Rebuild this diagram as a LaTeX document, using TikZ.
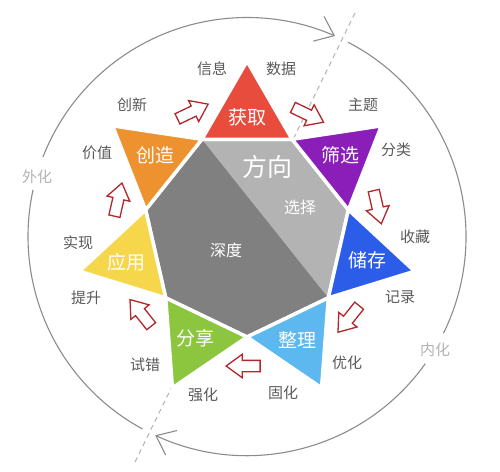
\documentclass[tikz,border=0pt]{standalone}
\usepackage{fontspec}
\setmainfont{Noto Sans CJK SC}
\usetikzlibrary{shapes.arrows,arrows.meta,calc}
\definecolor{cred}{HTML}{E84C3D}
\definecolor{corange}{HTML}{EE922F}
\definecolor{cyellow}{HTML}{F6D64A}
\definecolor{cgreen}{HTML}{8CC63E}
\definecolor{clblue}{HTML}{5CB8EE}
\definecolor{cblue}{HTML}{2B5DE8}
\definecolor{cpurple}{HTML}{8B1EB8}
\definecolor{glight}{HTML}{B3B3B3}
\definecolor{gdark}{HTML}{808080}
\definecolor{labelgray}{HTML}{5A5A5A}
\definecolor{faint}{HTML}{B3B3B3}
\definecolor{arcgray}{HTML}{8C8C8C}
\definecolor{arrowred}{HTML}{B3262A}
\begin{document}
\begin{tikzpicture}[x=1pt,y=1pt,
  outer/.style={text=labelgray,font=\fontsize{15}{15}\selectfont,inner sep=0pt},
  side/.style={text=faint,font=\fontsize{15}{15}\selectfont,inner sep=0pt},
  tri/.style={text=white,font=\fontsize{19}{19}\selectfont,inner sep=0pt},
  hept/.style={text=white,font=\fontsize{16}{16}\selectfont,inner sep=0pt},
  ring/.style={draw=arcgray,line width=1.1pt},
  ringarrow/.style={ring,-{Straight Barb[length=17pt,width=27pt,line width=1.1pt]}},
  dashline/.style={draw=faint,line width=1pt,dash pattern=on 5pt off 4pt},
  flow/.style={single arrow,draw=arrowred,fill=white,line width=1.3pt,
    minimum height=34pt,inner sep=5pt,single arrow head extend=6pt,
    single arrow tip angle=72},
  piece/.style={draw=white,line width=3.5pt,line join=round}
]
\useasboundingbox (0,0) rectangle (500,-471);
\fill[white] (0,0) rectangle (500,-471);
\coordinate (O) at (247,-233);
\coordinate (C) at (247,-236.5);
% outer ring
\draw[ring] ([shift={(C)}]241.5:219pt) arc[start angle=241.5,end angle=167.7,radius=219pt];
\draw[ringarrow] ([shift={(C)}]158.7:219pt) arc[start angle=158.7,end angle=66.3,radius=219pt];
\draw[ring] ([shift={(C)}]62.5:219pt) arc[start angle=62.5,end angle=-26.2,radius=219pt];
\draw[ringarrow] ([shift={(C)}]-35.5:219pt) arc[start angle=-35.5,end angle=-114.8,radius=219pt];
\coordinate (D1) at (355,-13);
\coordinate (D2) at (135,-462);
\draw[dashline] (D1) -- (D2);
% vertices
\foreach \k in {0,...,6}{
  \coordinate (V\k) at ($(O)+({64.2857+51.4286*\k}:104pt)$);
  \coordinate (A\k) at ($(O)+({90+51.4286*\k}:171.85pt)$);
}
% heptagon
\fill[glight] (V1) -- (V0) -- (V6) -- (V5) -- cycle;
\fill[gdark] (V5) -- (V4) -- (V3) -- (V2) -- (V1) -- cycle;
\draw[piece] (V0) -- (V1) -- (V2) -- (V3) -- (V4) -- (V5) -- (V6) -- cycle;
% triangles
\filldraw[piece,fill=cred] (V0) -- (A0) -- (V1) -- cycle;
\filldraw[piece,fill=corange] (V1) -- (A1) -- (V2) -- cycle;
\filldraw[piece,fill=cyellow] (V2) -- (A2) -- (V3) -- cycle;
\filldraw[piece,fill=cgreen] (V3) -- (A3) -- (V4) -- cycle;
\filldraw[piece,fill=clblue] (V4) -- (A4) -- (V5) -- cycle;
\filldraw[piece,fill=cblue] (V5) -- (A5) -- (V6) -- cycle;
\filldraw[piece,fill=cpurple] (V6) -- (A6) -- (V0) -- cycle;
% triangle labels
\node[tri] (t0) at (247,-117) {获取};
\node[tri] (t6) at (340,-155) {筛选};
\node[tri] (t5) at (367,-260) {储存};
\node[tri] (t4) at (297,-340) {整理};
\node[tri] (t3) at (195,-338) {分享};
\node[tri] (t2) at (126,-262) {应用};
\node[tri] (t1) at (155,-155) {创造};
% heptagon labels
\node[text=white,font=\fontsize{25}{25}\selectfont,inner sep=0pt] (h1) at (267,-167) {方向};
\node[hept] (h2) at (300,-207) {选择};
\node[hept] (h3) at (226,-250) {深度};
% outer labels
\node[outer] (o1) at (212,-69) {信息};
\node[outer] (o2) at (281,-69) {数据};
\node[outer] (o3) at (363,-105) {主题};
\node[outer] (o4) at (396,-150) {分类};
\node[outer] (o5) at (415,-237) {收藏};
\node[outer] (o6) at (400,-297) {记录};
\node[outer] (o7) at (347,-363) {优化};
\node[outer] (o8) at (283,-393) {固化};
\node[outer] (o9) at (203,-395) {强化};
\node[outer] (o10) at (145,-365) {试错};
\node[outer] (o11) at (86,-298) {提升};
\node[outer] (o12) at (78,-243) {实现};
\node[outer] (o13) at (97,-153) {价值};
\node[outer] (o14) at (132,-105) {创新};
\node[side] (s1) at (37,-177) {外化};
\node[side] (s2) at (435,-350) {内化};
% flow arrows
\foreach \a [count=\i] in {64.2857,12.8571,-38.5714,-90,-141.4286,167.1429,115.7143}{
  \node[flow,rotate=\a-90] (f\i) at ($(O)+(\a:133pt)$) {};
}
\end{tikzpicture}
\end{document}
